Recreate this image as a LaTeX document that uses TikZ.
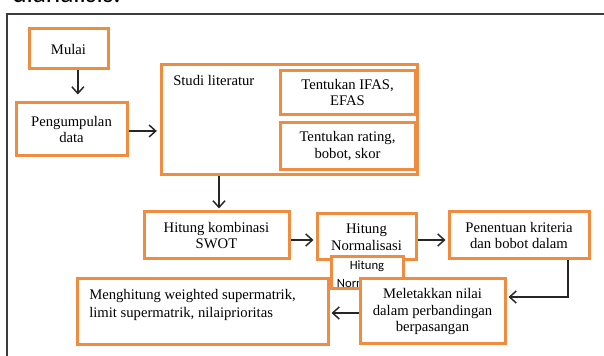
\documentclass[tikz,border=0pt]{standalone}
\usepackage{fontspec}
\setmainfont{Liberation Serif}
\newfontfamily\calib{Carlito}
\usetikzlibrary{arrows.meta}
\definecolor{boxorange}{RGB}{240,140,64}
\definecolor{framegray}{RGB}{60,60,60}
\begin{document}
\begin{tikzpicture}[x=0.75pt,y=-0.75pt,
  obox/.style={draw=boxorange,line width=2.25pt,fill=white,inner sep=0pt,align=center,
    font=\fontsize{11}{12.4}\selectfont},
  arr/.style={draw=black!85,line width=1.1pt,-{Straight Barb[length=5pt,width=9pt,line width=1.1pt]}},
  conn/.style={draw=black!85,line width=1.1pt}]
\useasboundingbox (0,0) rectangle (604,356);
\clip (0,0) rectangle (604,356);
% cut-off caption text and outer frame
\node[anchor=base west,inner sep=0pt,font=\calib\fontsize{20.5}{22}\selectfont] (cap) at (12,2.5) {dianalisis.};
\draw[framegray,line width=1pt] (7,400) -- (7,14) -- (660,14);
% boxes
\node[obox,minimum width=59.25pt,minimum height=30pt] (mulai) at (68.5,49) {Mulai};
\node[obox,minimum width=83.25pt,minimum height=39.75pt] (peng) at (71.5,129.5) {Pengumpulan\\data};
\node[obox,minimum width=192pt,minimum height=82.5pt] (studi) at (289,120) {};
\node[anchor=west,inner sep=0pt,font=\fontsize{11}{12.4}\selectfont] (studilbl) at (173,80) {Studi literatur};
\node[obox,minimum width=101.25pt,minimum height=33pt] (ifas) at (347.5,92.5) {Tentukan IFAS,\\EFAS};
\node[obox,minimum width=101.25pt,minimum height=35.25pt] (rating) at (347.5,146) {Tentukan rating,\\bobot, skor};
\node[obox,minimum width=108.75pt,minimum height=35.25pt] (swot) at (216.5,235.5) {Hitung kombinasi\\SWOT};
\node[obox,minimum width=74.25pt,minimum height=34.5pt] (norm) at (366.5,237) {Hitung\\Normalisasi};
\node[obox,minimum width=105pt,minimum height=35.25pt] (pen) at (519,235.5) {Penentuan kriteria\\dan bobot dalam};
\node[obox,minimum width=188.25pt,minimum height=49.5pt] (mengh) at (202.5,312) {};
\node[anchor=north west,inner sep=0pt,align=left,font=\fontsize{11}{13.4}\selectfont] (menghtxt) at (89,289) {Menghitung weighted supermatrik,\\limit supermatrik, nilaiprioritas};
% small overlapped box
\node[obox,minimum width=54pt,minimum height=24pt] (small) at (367,273) {};
\begin{scope}
  \clip ([shift={(2,-2)}]small.south west) rectangle ([shift={(-2,2)}]small.north east);
  \node[anchor=north,inner sep=0pt,align=center,font=\calib\fontsize{9.5}{13}\selectfont] (smalltxt) at (367,261) {Hitung\\Normalisasi};
\end{scope}
\node[obox,minimum width=108.75pt,minimum height=48.75pt] (melet) at (432.5,311.5) {Meletakkan nilai\\dalam perbandingan\\berpasangan};
% connectors
\draw[arr] ([xshift=7pt]mulai.south) -- ++(0,24);
\draw[arr,shorten >=2pt] (peng.east |- 0,131) -- (studi.west |- 0,131);
\draw[arr] (swot.north |- studi.south) ++(2.5,0) -- ++(0,32);
\draw[arr,shorten >=1.5pt] (swot.east |- 0,240) -- (norm.west |- 0,240);
\draw[arr,shorten >=1.5pt] (norm.east |- 0,240) -- (pen.west |- 0,240);
\draw[arr,shorten >=1.5pt] ([xshift=36.75pt]pen.south) |- (melet.east |- 0,297);
\draw[arr,shorten >=1.5pt] (melet.west |- 0,313) -- (mengh.east |- 0,313);
\end{tikzpicture}
\end{document}
